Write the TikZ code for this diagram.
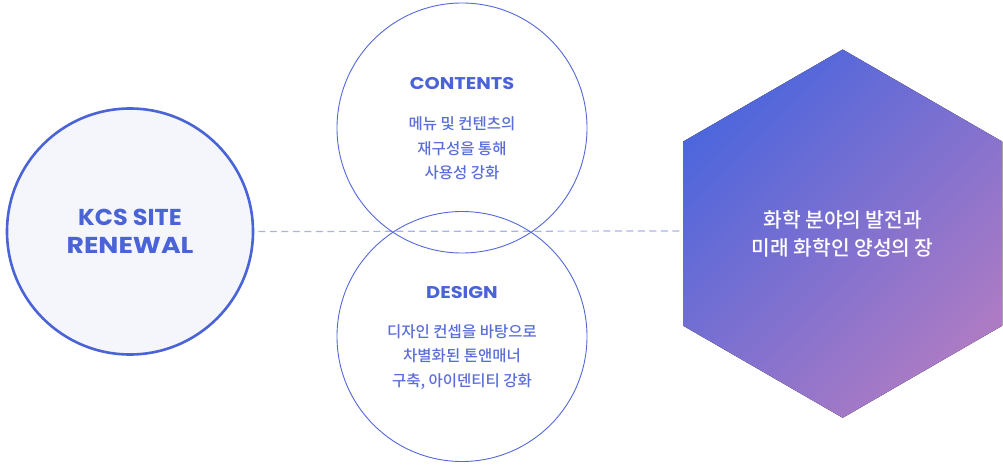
\documentclass[tikz,border=0pt]{standalone}
\usepackage{fontspec}
\usepackage{graphicx}
\setmainfont{Poppins}
\newfontfamily\kr{Noto Sans CJK KR Medium}
\usetikzlibrary{shapes.geometric}
\definecolor{kblue}{HTML}{4A63D6}
\definecolor{kfill}{HTML}{F4F6FC}
\definecolor{kline}{HTML}{5468D8}
\definecolor{ktext}{HTML}{5A6ED9}
\definecolor{kdash}{HTML}{A9B4E6}
\definecolor{hexA}{HTML}{4E66DC}
\definecolor{hexB}{HTML}{AD7BC4}
\newcommand{\wide}[2][1.1]{\scalebox{#1}[1]{#2}}
\tikzset{
  bigcircle/.style={circle, draw=kblue, line width=2.6pt, fill=kfill, minimum size=246pt, inner sep=0pt,
    align=center, text=kblue, font=\bfseries\fontsize{23}{28.5}\selectfont},
  thincircle/.style={circle, draw=kline, line width=0.9pt, minimum size=250pt, inner sep=0pt},
  titletext/.style={text=kblue, font=\bfseries\fontsize{17}{20}\selectfont, inner sep=0pt},
  bodytext/.style={text=ktext, align=center, font=\kr\fontsize{15.5}{24.5}\selectfont, inner sep=0pt},
  hextext/.style={text=white, align=center, font=\kr\fontsize{20.3}{28}\selectfont, inner sep=0pt},
  dashline/.style={draw=kdash, line width=1.2pt, dash pattern=on 7pt off 4.5pt}
}
\begin{document}
\begin{tikzpicture}[x=1pt,y=-1pt]
\useasboundingbox (0,0) rectangle (1003,465);
% hexagon
\fill[top color=hexA, bottom color=hexB, shading angle=45]
  (842.7,49.5) -- (1002.3,141.6) -- (1002.3,325.7) -- (842.7,417.8) -- (683.1,325.7) -- (683.1,141.6) -- cycle;
\coordinate (hexW) at (683.1,231);
\node[hextext] (hex) at (842.7,234) {화학 분야의 발전과\\미래 화학인 양성의 장};
% left circle
\node[bigcircle] (kcs) at (130,231.5) {\wide[1.04]{KCS SITE}\\\wide[1.16]{RENEWAL}};
% dashed connector
\draw[dashline, shorten <=4pt] (kcs.east) -- (hexW);
% middle circles
\node[thincircle] (contents) at (462,128) {};
\node[thincircle] (design) at (462,336.5) {};
\node[titletext] (ctitle) at (462,84) {\wide[1.14]{CONTENTS}};
\node[bodytext] (cbody) at (462,148.5) {메뉴 및 컨텐츠의\\재구성을 통해\\사용성 강화};
\node[titletext] (dtitle) at (462,293) {\wide[1.14]{DESIGN}};
\node[bodytext] (dbody) at (462,357) {디자인 컨셉을 바탕으로\\차별화된 톤앤매너\\구축, 아이덴티티 강화};
\end{tikzpicture}
\end{document}
